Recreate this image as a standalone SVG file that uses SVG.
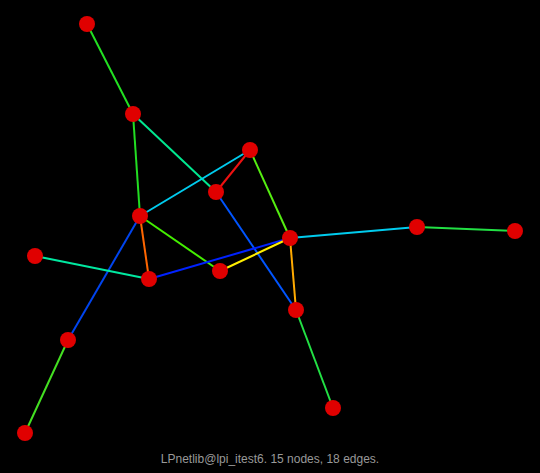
<svg xmlns="http://www.w3.org/2000/svg" width="540" height="473" viewBox="0 0 540 473">
<style>
line{stroke-width:2}
circle{fill:#e00000}
text{font-family:"Liberation Sans",Arial,sans-serif;font-size:12px;fill:#999999}
</style>
<rect width="540" height="473" fill="#000000"/>
<g id="edges">
<line x1="87" y1="24" x2="133" y2="114" stroke="#22e022"/>
<line x1="133" y1="114" x2="140" y2="216" stroke="#22dd22"/>
<line x1="133" y1="114" x2="216" y2="192" stroke="#00e890"/>
<line x1="250" y1="150" x2="216" y2="192" stroke="#ee1111"/>
<line x1="250" y1="150" x2="140" y2="216" stroke="#00ccee"/>
<line x1="250" y1="150" x2="290" y2="238" stroke="#55ee11"/>
<line x1="216" y1="192" x2="296" y2="310" stroke="#0055ff"/>
<line x1="140" y1="216" x2="149" y2="279" stroke="#ff6600"/>
<line x1="140" y1="216" x2="220" y2="271" stroke="#44ee00"/>
<line x1="140" y1="216" x2="68" y2="340" stroke="#0044ee"/>
<line x1="35" y1="256" x2="149" y2="279" stroke="#00e8a0"/>
<line x1="149" y1="279" x2="290" y2="238" stroke="#0022ff"/>
<line x1="220" y1="271" x2="290" y2="238" stroke="#ffee00"/>
<line x1="290" y1="238" x2="417" y2="227" stroke="#00ccee"/>
<line x1="417" y1="227" x2="515" y2="231" stroke="#22e044"/>
<line x1="290" y1="238" x2="296" y2="310" stroke="#ffaa00"/>
<line x1="296" y1="310" x2="333" y2="408" stroke="#22e044"/>
<line x1="68" y1="340" x2="25" y2="433" stroke="#44e022"/>
</g>
<g id="n1"><circle cx="87" cy="24" r="8"/></g>
<g id="n2"><circle cx="133" cy="114" r="8"/></g>
<g id="n3"><circle cx="250" cy="150" r="8"/></g>
<g id="n4"><circle cx="216" cy="192" r="8"/></g>
<g id="n5"><circle cx="140" cy="216" r="8"/></g>
<g id="n6"><circle cx="35" cy="256" r="8"/></g>
<g id="n7"><circle cx="149" cy="279" r="8"/></g>
<g id="n8"><circle cx="220" cy="271" r="8"/></g>
<g id="n9"><circle cx="290" cy="238" r="8"/></g>
<g id="n10"><circle cx="417" cy="227" r="8"/></g>
<g id="n11"><circle cx="515" cy="231" r="8"/></g>
<g id="n12"><circle cx="296" cy="310" r="8"/></g>
<g id="n13"><circle cx="68" cy="340" r="8"/></g>
<g id="n14"><circle cx="25" cy="433" r="8"/></g>
<g id="n15"><circle cx="333" cy="408" r="8"/></g>
<text x="270" y="463" text-anchor="middle">LPnetlib@lpi_itest6. 15 nodes, 18 edges.</text>
</svg>
